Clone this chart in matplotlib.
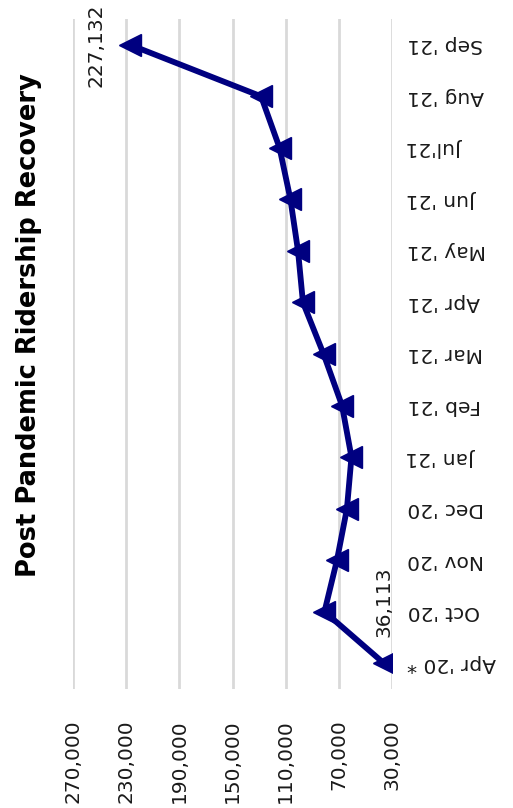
import matplotlib.pyplot as plt
from matplotlib.ticker import FuncFormatter

# Monthly ridership, first post-pandemic month through Sep '21
months = ["Apr '20 *", "Oct '20", "Nov '20", "Dec '20", "Jan '21", "Feb '21",
          "Mar '21", "Apr '21", "May '21", "Jun '21", "Jul'21", "Aug '21", "Sep '21"]
riders = [36113, 80800, 71400, 63900, 60500, 67600,
          81500, 97000, 100700, 106400, 114600, 128500, 227132]
value_ticks = [30000, 70000, 110000, 150000, 190000, 230000, 270000]

NAVY = '#000080'
GRID = '#d9d9d9'
TEXT = '#1a1a1a'

fig = plt.figure(figsize=(5.13, 8.08), dpi=100, facecolor='white')
ax = fig.add_axes([73 / 513, 1 - 689 / 808, (392 - 73) / 513, (689 - 19) / 808])

# chart is laid out sideways: values run right-to-left, months bottom-to-top
pos = list(range(len(months)))
ax.plot(riders, pos, color=NAVY, lw=4.2, marker='<', markersize=16,
        markeredgewidth=1, markerfacecolor=NAVY, markeredgecolor=NAVY,
        solid_joinstyle='round', zorder=3)

ax.set_xlim(270000, 30000)
ax.set_ylim(-0.5, len(months) - 0.5)
ax.set_xticks(value_ticks)
ax.xaxis.set_major_formatter(FuncFormatter(lambda v, p: f"{int(v):,}"))
ax.grid(axis='x', color=GRID, lw=2)
ax.set_axisbelow(True)
for s in ax.spines.values():
    s.set_visible(False)

ax.tick_params(axis='x', length=0, pad=22, labelsize=14.5, labelcolor=TEXT)
for lbl in ax.get_xticklabels():
    lbl.set_rotation(90)
    lbl.set_ha('center')
    lbl.set_va('top')

ax.yaxis.tick_right()
ax.set_yticks(pos)
ax.set_yticklabels(months)
ax.tick_params(axis='y', length=0, pad=11, labelsize=14.5, labelcolor=TEXT)
for lbl in ax.get_yticklabels():
    lbl.set_rotation(180)
    lbl.set_ha('left')
    lbl.set_va('center')

# value labels on first and last points
ax.annotate(f"{riders[-1]:,}", xy=(riders[-1], pos[-1]), xytext=(-24, 0),
            textcoords='offset pixels', rotation=90, ha='right', va='center',
            fontsize=14.5, color=TEXT)
ax.annotate(f"{riders[0]:,}", xy=(riders[0], pos[0]), xytext=(0, 26),
            textcoords='offset pixels', rotation=90, ha='center', va='bottom',
            fontsize=14.5, color=TEXT)

fig.text(29 / 513, 1 - 325 / 808, "Post Pandemic Ridership Recovery",
         rotation=90, ha='center', va='center', fontsize=18.5,
         fontweight='bold', color='black')

fig.savefig('out.png', dpi=100, facecolor='white')
